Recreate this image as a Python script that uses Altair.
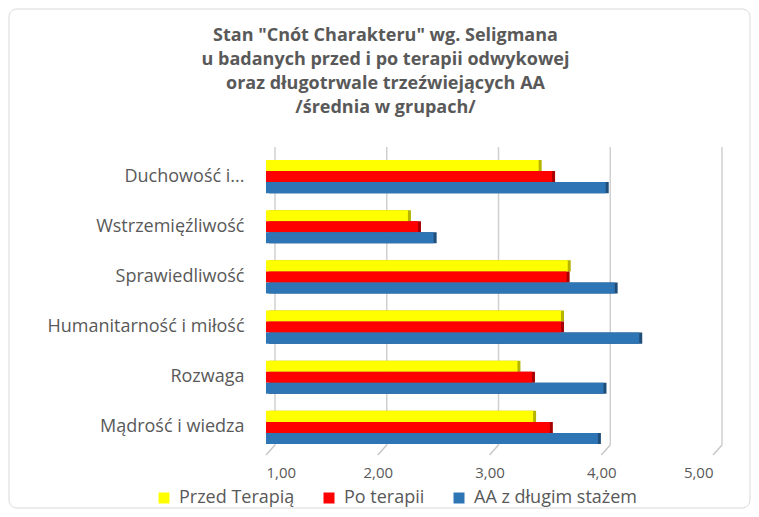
import altair as alt
import pandas as pd

categories = ["Duchowość i...", "Wstrzemięźliwość", "Sprawiedliwość",
              "Humanitarność i miłość", "Rozwaga", "Mądrość i wiedza"]
series = ["Przed Terapią", "Po terapii", "AA z długim stażem"]
przed = [3.44, 2.27, 3.70, 3.64, 3.25, 3.39]
po = [3.56, 2.36, 3.69, 3.64, 3.38, 3.54]
aa = [4.04, 2.50, 4.12, 4.34, 4.02, 3.97]
x_ticks = [1, 2, 3, 4, 5]

colors = ["#FFFF00", "#FF0000", "#2E75B6"]
dark = ["#B5B500", "#A80000", "#1F4E79"]

rows = []
for s, vals in zip(series, [przed, po, aa]):
    for c, v in zip(categories, vals):
        rows.append({"cat": c, "series": s, "value": v})
df = pd.DataFrame(rows)
ticks_df = pd.DataFrame({"t": x_ticks})

FONT = "Open Sans"
GREY = "#595959"

x_scale = alt.Scale(domain=[1, 5], zero=False, nice=False)

y_enc = alt.Y("cat:N", sort=categories,
              scale=alt.Scale(paddingInner=0.34, paddingOuter=0.16),
              axis=alt.Axis(title=None, ticks=False, domain=False, grid=False,
                            labelFontSize=18, labelColor=GREY, labelFont=FONT,
                            labelPadding=22, labelLimit=300))
yoff = alt.YOffset("series:N", sort=series,
                   scale=alt.Scale(paddingInner=0, paddingOuter=0))
x_enc = alt.X("value:Q", scale=x_scale,
              axis=alt.Axis(title=None, values=x_ticks, domain=False, ticks=False,
                            grid=False,
                            labelExpr="replace(format(datum.value, '.2f'), '.', ',')",
                            labelFontSize=15, labelColor=GREY, labelFont=FONT,
                            labelPadding=13))

base = alt.Chart(df)

grid = alt.Chart(ticks_df).mark_rule(color="#D0D0D0", strokeWidth=1.5, xOffset=9).encode(
    x=alt.X("t:Q", scale=x_scale), y=alt.value(-5), y2=alt.value(293))

floor = alt.Chart(ticks_df).mark_rule(color="#C8C8C8", strokeWidth=1.5,
                                      xOffset=9, x2Offset=0).encode(
    x=alt.X("t:Q", scale=x_scale), x2="t:Q", y=alt.value(293), y2=alt.value(303))

depth = base.mark_bar(xOffset=3, x2Offset=3, yOffset=-3).encode(
    y=y_enc, yOffset=yoff, x=x_enc, x2=alt.X2Datum(1),
    color=alt.Color("series:N", scale=alt.Scale(domain=series, range=dark), legend=None),
)

front = base.mark_bar().encode(
    y=y_enc, yOffset=yoff, x=x_enc, x2=alt.X2Datum(1),
    color=alt.Color("series:N", scale=alt.Scale(domain=series, range=colors),
                    legend=alt.Legend(title=None, orient="none", legendX=-111, legendY=337,
                                      direction="horizontal", symbolType="square",
                                      symbolSize=121, symbolStrokeWidth=0,
                                      labelFontSize=18, labelColor=GREY, labelFont=FONT,
                                      labelOffset=6, columnPadding=25, labelLimit=400)),
)

border = alt.Chart(pd.DataFrame({"a": [0]})).mark_rect(
    filled=False, stroke="#D9D9D9", strokeWidth=1, cornerRadius=8
).encode(x=alt.value(-257), x2=alt.value(484), y=alt.value(-143), y2=alt.value(356))

chart = alt.layer(border, grid, floor, depth, front).resolve_scale(color="independent").properties(
    width=447, height=300,
    autosize=alt.AutoSizeParams(type="none"),
    padding={"left": 258, "top": 144, "right": 38, "bottom": 57},
    title=alt.TitleParams(
        text=["Stan \"Cnót Charakteru\" wg. Seligmana",
              "u badanych przed i po terapii odwykowej",
              "oraz długotrwale trzeźwiejących AA",
              "/średnia w grupach/"],
        anchor="middle", dx=-104, dy=138, offset=30, fontSize=18, fontWeight="bold",
        font=FONT, color=GREY, lineHeight=24),
).configure_view(stroke=None)

chart.save("out.html", embed_options={"renderer": "svg", "actions": False})
